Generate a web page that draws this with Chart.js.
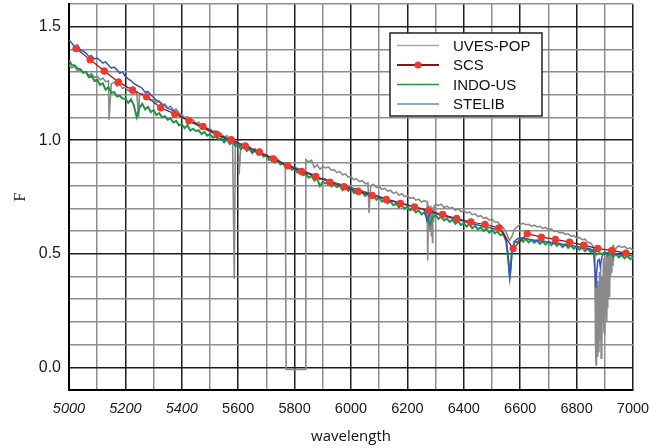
<!DOCTYPE html>
<html>
<head>
<meta charset="utf-8">
<script src="https://cdn.jsdelivr.net/npm/chart.js@4.4.1/dist/chart.umd.min.js"></script>
<style>
  html, body { margin: 0; padding: 0; background: #fff; }
</style>
</head>
<body>
<canvas id="chart" width="649" height="448"></canvas>
<script>
// Spectra sampled every 10 A from 5000 to 7000 (201 values each)
const gridStart = 5000;
const gridStep = 10;

// UVES-POP (grey)
const uvesFlux = [
  1.332, 1.318, 1.326, 1.305, 1.312, 1.296, 1.302, 1.285, 1.294, 1.276, // 5000
  1.282, 1.266, 1.274, 1.258, 1.262, 1.248, 1.255, 1.238, 1.246, 1.228, // 5100
  1.234, 1.218, 1.226, 1.206, 1.214, 1.198, 1.205, 1.186, 1.194, 1.176, // 5200
  1.180, 1.165, 1.172, 1.154, 1.160, 1.142, 1.150, 1.132, 1.138, 1.120, // 5300
  1.112, 1.100, 1.104, 1.084, 1.090, 1.074, 1.080, 1.062, 1.068, 1.050, // 5400
  1.052, 1.038, 1.042, 1.026, 1.030, 1.014, 1.020, 1.003, 1.008, 0.992, // 5500
  0.994, 0.980, 0.984, 0.968, 0.972, 0.958, 0.962, 0.946, 0.950, 0.936, // 5600
  0.940, 0.926, 0.930, 0.914, 0.918, 0.904, 0.893, -0.010, -0.010, -0.010, // 5700
  -0.010, -0.010, -0.010, -0.010, 0.915, 0.904, 0.912, 0.880, 0.892, 0.872, // 5800
  0.884, 0.878, 0.882, 0.868, 0.870, 0.858, 0.862, 0.848, 0.852, 0.838, // 5900
  0.840, 0.826, 0.830, 0.818, 0.822, 0.808, 0.812, 0.800, 0.806, 0.792, // 6000
  0.796, 0.784, 0.788, 0.776, 0.780, 0.766, 0.772, 0.758, 0.764, 0.752, // 6100
  0.756, 0.744, 0.748, 0.736, 0.740, 0.728, 0.734, 0.730, 0.650, 0.690, // 6200
  0.720, 0.712, 0.718, 0.704, 0.710, 0.700, 0.704, 0.692, 0.698, 0.686, // 6300
  0.690, 0.680, 0.684, 0.672, 0.676, 0.664, 0.668, 0.656, 0.660, 0.648, // 6400
  0.652, 0.640, 0.640, 0.625, 0.614, 0.595, 0.565, 0.575, 0.607, 0.620, // 6500
  0.630, 0.634, 0.628, 0.630, 0.622, 0.626, 0.618, 0.621, 0.612, 0.616, // 6600
  0.606, 0.610, 0.598, 0.601, 0.592, 0.594, 0.585, 0.588, 0.578, 0.580, // 6700
  0.570, 0.572, 0.562, 0.564, 0.550, 0.548, 0.530, 0.300, 0.120, 0.080, // 6800
  0.140, 0.260, 0.400, 0.470, 0.525, 0.535, 0.528, 0.532, 0.522, 0.526, // 6900
  0.516
];
// UVES-POP narrow lines and telluric bands between the grid points
const uvesLineWave = [5142, 5247, 5586, 5603, 5767, 5838, 6064,
  6271, 6273, 6275, 6277, 6279, 6281, 6283, 6285, 6287, 6289, 6291, 6293, 6295, 6297,
  6563,
  6863, 6865, 6867, 6869, 6871, 6873, 6875, 6877, 6879, 6881, 6883, 6885, 6887, 6889,
  6891, 6893, 6895, 6897, 6899, 6901, 6903, 6905, 6907, 6909, 6911, 6913, 6915, 6917,
  6919, 6921, 6923, 6925, 6927, 6929, 6931, 6933];
const uvesLineFlux = [1.090, 1.100, 0.390, 0.850, 0.888, -0.010, 0.680,
  0.725, 0.470, 0.715, 0.600, 0.700, 0.640, 0.712, 0.580, 0.700, 0.550, 0.705, 0.640, 0.715, 0.700,
  0.560,
  0.520, 0.450, 0.100, 0.010, 0.400, 0.050, 0.380, 0.070, 0.350, 0.420, 0.150, 0.460, 0.040, 0.300,
  0.400, 0.200, 0.480, 0.150, 0.420, 0.450, 0.220, 0.500, 0.200, 0.470, 0.500, 0.300, 0.520, 0.310,
  0.500, 0.520, 0.420, 0.530, 0.450, 0.540, 0.540, 0.500];

// INDO-US (green)
const indoFlux = [
  1.352, 1.331, 1.329, 1.316, 1.313, 1.298, 1.301, 1.278, 1.284, 1.262, // 5000
  1.266, 1.244, 1.250, 1.222, 1.234, 1.209, 1.212, 1.192, 1.196, 1.184, // 5100
  1.183, 1.165, 1.180, 1.154, 1.102, 1.144, 1.160, 1.136, 1.147, 1.124, // 5200
  1.132, 1.111, 1.119, 1.101, 1.106, 1.090, 1.096, 1.078, 1.085, 1.066, // 5300
  1.071, 1.053, 1.066, 1.043, 1.051, 1.040, 1.044, 1.027, 1.037, 1.020, // 5400
  1.027, 1.011, 1.015, 1.004, 1.009, 0.991, 1.005, 0.983, 0.991, 0.974, // 5500
  0.979, 0.961, 0.976, 0.953, 0.963, 0.943, 0.957, 0.937, 0.943, 0.928, // 5600
  0.933, 0.913, 0.923, 0.902, 0.909, 0.893, 0.899, 0.880, 0.887, 0.870, // 5700
  0.875, 0.858, 0.863, 0.846, 0.851, 0.835, 0.843, 0.822, 0.831, 0.798, // 5800
  0.817, 0.810, 0.815, 0.797, 0.805, 0.794, 0.800, 0.781, 0.796, 0.777, // 5900
  0.787, 0.768, 0.783, 0.762, 0.773, 0.754, 0.765, 0.748, 0.757, 0.738, // 6000
  0.747, 0.730, 0.739, 0.722, 0.731, 0.714, 0.721, 0.704, 0.713, 0.698, // 6100
  0.708, 0.692, 0.699, 0.682, 0.691, 0.674, 0.683, 0.656, 0.628, 0.661, // 6200
  0.670, 0.654, 0.663, 0.647, 0.655, 0.640, 0.650, 0.632, 0.643, 0.626, // 6300
  0.635, 0.620, 0.630, 0.612, 0.623, 0.607, 0.617, 0.600, 0.610, 0.594, // 6400
  0.605, 0.590, 0.597, 0.582, 0.587, 0.556, 0.450, 0.500, 0.553, 0.550, // 6500
  0.567, 0.553, 0.566, 0.550, 0.561, 0.549, 0.558, 0.544, 0.555, 0.541, // 6600
  0.553, 0.538, 0.549, 0.535, 0.545, 0.530, 0.541, 0.526, 0.537, 0.522, // 6700
  0.532, 0.517, 0.528, 0.512, 0.523, 0.508, 0.519, 0.496, 0.503, 0.499, // 6800
  0.507, 0.492, 0.503, 0.488, 0.499, 0.484, 0.495, 0.480, 0.490, 0.477, // 6900
  0.482
];
const indoLineWave = [6563, 6566];
const indoLineFlux = [0.410, 0.440];

// STELIB (blue)
const stelibFlux = [
  1.440, 1.428, 1.412, 1.420, 1.398, 1.392, 1.384, 1.370, 1.372, 1.358, // 5000
  1.362, 1.352, 1.340, 1.345, 1.330, 1.318, 1.322, 1.310, 1.296, 1.300, // 5100
  1.280, 1.270, 1.262, 1.250, 1.242, 1.236, 1.228, 1.212, 1.214, 1.200, // 5200
  1.188, 1.176, 1.170, 1.160, 1.152, 1.140, 1.136, 1.130, 1.122, 1.114, // 5300
  1.104, 1.096, 1.088, 1.084, 1.076, 1.070, 1.062, 1.056, 1.050, 1.045, // 5400
  1.038, 1.034, 1.026, 1.020, 1.016, 1.010, 1.003, 0.998, 0.994, 0.986, // 5500
  0.982, 0.976, 0.972, 0.964, 0.960, 0.955, 0.950, 0.944, 0.940, 0.935, // 5600
  0.932, 0.926, 0.922, 0.914, 0.910, 0.904, 0.898, 0.894, 0.888, 0.885, // 5700
  0.880, 0.876, 0.870, 0.865, 0.860, 0.856, 0.852, 0.846, 0.840, 0.828, // 5800
  0.832, 0.828, 0.822, 0.818, 0.814, 0.810, 0.806, 0.802, 0.798, 0.795, // 5900
  0.792, 0.788, 0.784, 0.780, 0.776, 0.772, 0.768, 0.764, 0.760, 0.756, // 6000
  0.752, 0.748, 0.744, 0.740, 0.736, 0.733, 0.729, 0.726, 0.722, 0.719, // 6100
  0.716, 0.712, 0.709, 0.705, 0.702, 0.699, 0.692, 0.645, 0.680, 0.682, // 6200
  0.676, 0.673, 0.670, 0.666, 0.663, 0.660, 0.656, 0.653, 0.650, 0.646, // 6300
  0.642, 0.639, 0.636, 0.633, 0.630, 0.627, 0.624, 0.621, 0.618, 0.615, // 6400
  0.612, 0.609, 0.606, 0.602, 0.595, 0.570, 0.430, 0.500, 0.555, 0.566, // 6500
  0.570, 0.568, 0.566, 0.564, 0.562, 0.560, 0.559, 0.557, 0.556, 0.554, // 6600
  0.552, 0.550, 0.548, 0.546, 0.544, 0.542, 0.540, 0.538, 0.536, 0.534, // 6700
  0.532, 0.530, 0.528, 0.526, 0.523, 0.521, 0.505, 0.400, 0.475, 0.490, // 6800
  0.502, 0.505, 0.503, 0.500, 0.498, 0.497, 0.495, 0.494, 0.492, 0.491, // 6900
  0.490
];
const stelibLineWave = [6556, 6563, 6566, 6865, 6868, 6875, 6884];
const stelibLineFlux = [0.500, 0.388, 0.420, 0.430, 0.350, 0.470, 0.445];

// SCS (red points, every 50 A)
const scsWave = [5025, 5075, 5125, 5175, 5225, 5275, 5325, 5375, 5425, 5475,
  5525, 5575, 5625, 5675, 5725, 5775, 5825, 5875, 5925, 5975,
  6025, 6075, 6125, 6175, 6225, 6275, 6325, 6375, 6425, 6475,
  6525, 6575, 6625, 6675, 6725, 6775, 6825, 6875, 6925, 6975];
const scsFlux = [1.404, 1.355, 1.305, 1.257, 1.221, 1.192, 1.143, 1.116, 1.086, 1.061,
  1.026, 1.002, 0.975, 0.948, 0.918, 0.888, 0.862, 0.841, 0.815, 0.795,
  0.775, 0.757, 0.739, 0.722, 0.706, 0.690, 0.673, 0.655, 0.640, 0.629,
  0.614, 0.523, 0.588, 0.573, 0.563, 0.551, 0.538, 0.523, 0.515, 0.503];

function spectrum(values, lineWave, lineFlux) {
  const pts = values.map((v, i) => ({ x: gridStart + i * gridStep, y: v }));
  lineWave.forEach((w, i) => pts.push({ x: w, y: lineFlux[i] }));
  return pts.sort((a, b) => a.x - b.x);
}

const sans = '"Liberation Sans", Arial, sans-serif';

// legend drawn as a boxed panel inside the plot
const legendBox = {
  id: 'legendBox',
  afterDraw(chart) {
    const ctx = chart.ctx;
    ctx.save();
    ctx.fillStyle = '#fff';
    ctx.fillRect(390, 33, 152, 83);
    ctx.strokeStyle = '#222';
    ctx.lineWidth = 1.5;
    ctx.strokeRect(390, 33, 152, 83);
    chart.data.datasets.forEach((ds, i) => {
      const y = 45.5 + i * 19.5;
      ctx.strokeStyle = ds.legendColor;
      ctx.lineWidth = ds.pointRadius ? 2 : 1.6;
      ctx.beginPath();
      ctx.moveTo(397, y);
      ctx.lineTo(439, y);
      ctx.stroke();
      if (ds.pointRadius) {
        ctx.fillStyle = ds.pointBackgroundColor;
        ctx.beginPath();
        ctx.arc(418, y, 3.5, 0, Math.PI * 2);
        ctx.fill();
      }
      ctx.fillStyle = '#111';
      ctx.font = '15px ' + sans;
      ctx.textBaseline = 'middle';
      ctx.fillText(ds.label, 453, y + 1);
    });
    ctx.restore();
  }
};

const ctx = document.getElementById('chart').getContext('2d');
new Chart(ctx, {
  type: 'line',
  data: {
    datasets: [
      {
        label: 'UVES-POP',
        data: spectrum(uvesFlux, uvesLineWave, uvesLineFlux),
        borderColor: '#8a8a8a',
        legendColor: '#aaaaaa',
        borderWidth: 1.6,
        pointRadius: 0,
        order: 4
      },
      {
        label: 'SCS',
        data: scsWave.map((w, i) => ({ x: w, y: scsFlux[i] })),
        borderColor: '#8b1212',
        legendColor: '#8b1212',
        borderWidth: 1.2,
        pointRadius: 3.7,
        pointBackgroundColor: '#ee3a2c',
        pointBorderWidth: 0,
        order: 1
      },
      {
        label: 'INDO-US',
        data: spectrum(indoFlux, indoLineWave, indoLineFlux),
        borderColor: '#239444',
        legendColor: '#239444',
        borderWidth: 2,
        pointRadius: 0,
        order: 3
      },
      {
        label: 'STELIB',
        data: spectrum(stelibFlux, stelibLineWave, stelibLineFlux),
        borderColor: '#3556bd',
        legendColor: '#6f86cc',
        borderWidth: 1.5,
        pointRadius: 0,
        order: 2
      }
    ]
  },
  options: {
    responsive: false,
    animation: false,
    layout: { padding: { top: 2, right: 16, left: 0, bottom: 0 } },
    plugins: {
      legend: { display: false },
      tooltip: { enabled: false }
    },
    scales: {
      x: {
        type: 'linear',
        min: 5000,
        max: 7000,
        afterFit: (s) => {
          s.height = 58;
          s.paddingLeft = 0;
          s.paddingRight = 0;
        },
        ticks: {
          stepSize: 100,
          autoSkip: false,
          maxRotation: 0,
          padding: 10,
          color: '#1a1a1a',
          font: (c) => ({ family: sans, size: 14.5, style: c.tick && c.tick.value <= 5400 ? 'italic' : 'normal' }),
          callback: (v) => (v % 200 === 0 ? String(v) : '')
        },
        grid: {
          drawTicks: false,
          lineWidth: 1.5,
          color: (c) => (c.tick && c.tick.value % 200 === 0 ? '#1e1e1e' : '#8e8e8e')
        },
        border: { display: true, color: '#000', width: 2 },
        title: {
          display: true,
          text: 'wavelength',
          color: '#111',
          font: { family: '"Open Sans", sans-serif', size: 15 },
          padding: { top: 0, bottom: 2 }
        }
      },
      y: {
        min: -0.1,
        max: 1.6,
        afterFit: (s) => {
          s.width = 69;
          s.paddingTop = 0;
          s.paddingBottom = 0;
        },
        ticks: {
          stepSize: 0.1,
          autoSkip: false,
          padding: 8,
          color: '#1a1a1a',
          font: { family: sans, size: 16 },
          callback: (v) => {
            const t = Math.round(v * 10);
            return t % 5 === 0 && t >= 0 ? (t / 10).toFixed(1) : '';
          }
        },
        grid: {
          drawTicks: false,
          lineWidth: 1.5,
          color: (c) => (c.tick && Math.round(c.tick.value * 10) % 5 === 0 ? '#1e1e1e' : '#8e8e8e')
        },
        border: { display: true, color: '#000', width: 2 },
        title: {
          display: true,
          text: 'F',
          color: '#222',
          font: { family: '"Liberation Serif", "Times New Roman", serif', size: 16 },
          padding: { top: 11, bottom: 0 }
        }
      }
    }
  },
  plugins: [legendBox]
});
</script>
</body>
</html>
